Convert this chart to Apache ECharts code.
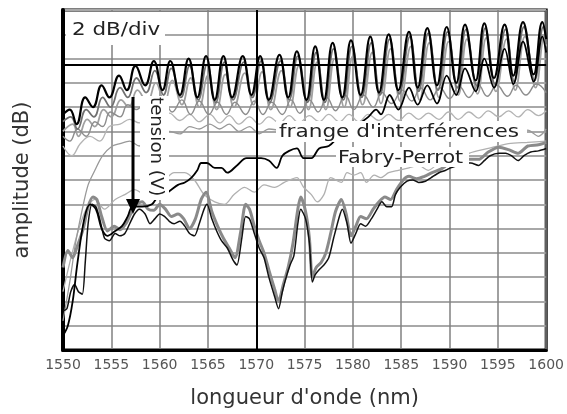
<!DOCTYPE html>
<html>
<head>
<meta charset="utf-8">
<title>amplitude / longueur d'onde</title>
<script src="https://cdn.jsdelivr.net/npm/echarts@6/dist/echarts.min.js"></script>
<style>
  html, body { margin: 0; padding: 0; background: #fff; }
  #main { width: 567px; height: 414px; }
</style>
</head>
<body>
<div id="main"></div>
<script>
// courbes : [longueur d'onde (nm), amplitude (dB)]
// tension la plus faible (courbe noire du haut, franges Fabry-Perot)
const k1 = [[1550.0,19.4],[1550.7,19.8],[1551.4,18.6],[1552.3,20.8],[1553.1,20.0],[1554.0,21.8],[1554.8,20.8],[1555.8,22.6],[1556.6,21.4],[1557.5,23.4],[1558.5,21.8],[1559.4,23.8],[1560.3,21.4],[1561.1,23.8],[1562.1,21.0],[1563.0,24.0],[1563.9,20.8],[1564.8,24.2],[1565.7,20.6],[1566.6,24.2],[1567.5,20.8],[1568.6,24.2],[1569.5,21.0],[1570.4,24.2],[1571.3,20.6],[1572.4,24.3],[1573.3,20.8],[1574.2,24.6],[1575.2,20.6],[1576.1,25.0],[1577.0,20.6],[1577.9,25.3],[1578.9,20.8],[1579.8,25.5],[1580.8,21.0],[1581.8,25.8],[1582.7,21.2],[1583.7,26.0],[1584.7,21.4],[1585.8,26.2],[1586.7,21.6],[1587.7,26.5],[1588.7,21.8],[1589.7,26.6],[1590.7,22.0],[1591.6,26.8],[1592.7,22.2],[1593.6,26.9],[1594.6,22.4],[1595.7,26.8],[1596.6,22.6],[1597.6,27.0],[1598.7,22.7],[1599.6,27.0],[1600.0,25.6]]
const t2 = [[1550.0,18.8],[1550.8,19.2],[1551.5,18.2],[1552.4,19.8],[1553.2,19.2],[1554.1,20.8],[1554.9,20.0],[1555.9,21.6],[1556.7,20.8],[1557.6,22.4],[1558.6,21.2],[1559.5,23.0],[1560.4,21.0],[1561.2,23.2],[1562.2,20.8],[1563.1,23.4],[1564.0,20.6],[1564.9,23.5],[1565.8,20.4],[1566.7,23.7],[1567.6,20.6],[1568.7,23.7],[1569.6,20.8],[1570.5,23.8],[1571.4,20.4],[1572.5,23.8],[1573.4,20.6],[1574.3,24.2],[1575.3,20.4],[1576.2,24.5],[1577.1,20.4],[1578.0,24.8],[1579.0,20.6],[1579.9,25.0],[1580.9,20.8],[1581.9,25.3],[1582.8,21.0],[1583.8,25.6],[1584.8,21.1],[1585.9,25.8],[1586.8,21.3],[1587.8,26.1],[1588.8,21.4],[1589.8,26.2],[1590.8,21.6],[1591.7,26.4],[1592.8,21.8],[1593.7,26.5],[1594.7,21.9],[1595.8,26.4],[1596.7,22.1],[1597.7,26.6],[1598.8,22.2],[1599.7,26.6],[1600.0,25.2]]
const t3 = [[1550.0,18.0],[1551.0,18.6],[1551.6,17.6],[1552.5,19.0],[1553.3,18.4],[1554.2,19.8],[1555.0,19.2],[1556.0,20.6],[1556.8,20.0],[1557.7,21.4],[1558.7,20.4],[1559.6,22.0],[1560.5,20.4],[1561.3,22.2],[1562.3,20.2],[1563.2,22.4],[1564.1,20.0],[1565.0,22.6],[1565.9,19.8],[1566.8,22.7],[1567.7,20.0],[1568.8,22.8],[1569.7,20.2],[1570.6,22.9],[1571.5,19.8],[1572.6,23.0],[1573.5,20.0],[1574.4,23.4],[1575.4,19.8],[1576.3,23.7],[1577.2,19.8],[1578.1,24.0],[1579.1,20.0],[1580.0,24.2],[1581.0,20.2],[1582.0,24.5],[1582.9,20.3],[1583.9,24.8],[1584.9,20.5],[1586.0,25.0],[1586.9,20.6],[1587.9,25.3],[1588.9,20.8],[1589.9,25.4],[1590.9,21.0],[1591.8,25.6],[1592.9,21.1],[1593.8,25.7],[1594.8,21.3],[1595.9,25.6],[1596.8,21.4],[1597.8,25.8],[1598.9,21.6],[1599.8,25.8],[1600.0,25.0]]
const l1 = [[1550.0,17.6],[1550.7,17.2],[1551.5,18.2],[1552.4,17.6],[1553.3,18.8],[1554.1,18.4],[1554.9,19.6],[1555.9,19.2],[1556.7,20.2],[1557.6,19.8],[1558.6,20.5],[1559.5,19.8],[1560.4,20.6],[1561.3,19.6],[1562.3,20.6],[1563.2,19.4],[1564.1,20.5],[1565.1,19.4],[1566.0,20.4],[1566.9,19.4],[1567.8,20.4],[1568.9,19.4],[1569.8,20.5],[1570.7,19.4],[1571.6,20.4],[1572.7,19.4],[1573.6,20.6],[1574.5,19.5],[1575.5,20.6],[1576.4,19.6],[1577.3,20.8],[1578.2,19.7],[1579.2,21.0],[1580.1,19.8],[1581.1,21.0],[1582.1,20.0],[1583.0,21.2],[1584.0,20.3],[1585.1,21.4],[1586.1,20.5],[1587.0,21.6],[1588.0,20.6],[1589.0,21.6],[1590.0,20.7],[1591.0,21.7],[1592.0,20.8],[1593.0,21.8],[1593.9,20.9],[1594.9,21.8],[1596.0,20.9],[1596.9,21.8],[1597.9,21.0],[1599.0,21.9],[1600.0,21.2]]
const l2 = [[1550.0,16.8],[1550.9,16.0],[1551.8,17.0],[1552.8,17.6],[1553.8,17.2],[1554.8,18.4],[1555.9,18.6],[1556.9,19.0],[1557.9,18.7],[1559.0,19.4],[1560.0,18.8],[1561.0,19.5],[1562.1,18.9],[1563.1,19.4],[1564.1,18.8],[1565.2,19.4],[1566.2,18.7],[1567.2,19.3],[1568.2,18.6],[1569.3,19.2],[1570.3,18.6],[1571.3,19.2],[1572.4,18.7],[1573.4,19.3],[1574.4,18.7],[1575.5,19.3],[1576.5,18.8],[1577.5,19.4],[1578.6,18.8],[1579.6,19.4],[1580.6,18.8],[1581.6,19.4],[1582.7,18.9],[1583.7,19.4],[1584.7,18.9],[1585.8,19.5],[1586.8,19.0],[1587.8,19.5],[1588.9,19.0],[1589.9,19.6],[1590.9,19.0],[1592.0,19.6],[1593.0,19.1],[1594.0,19.7],[1595.1,19.2],[1596.1,19.7],[1597.1,19.2],[1598.1,19.8],[1599.2,19.3],[1600.0,19.7]]
const l3 = [[1550.0,2.4],[1550.7,5.6],[1551.3,8.8],[1552.0,11.6],[1552.6,13.6],[1553.3,14.8],[1554.1,16.0],[1555.1,16.8],[1555.9,17.0],[1556.9,17.2],[1557.9,16.8],[1559.0,17.6],[1560.0,17.2],[1561.0,18.0],[1562.1,17.8],[1563.1,18.4],[1564.1,18.2],[1565.2,18.6],[1566.2,18.2],[1567.2,18.6],[1568.2,18.0],[1569.3,18.4],[1570.3,17.8],[1571.3,18.2],[1574.4,17.8],[1578.6,17.6],[1582.7,17.4],[1586.8,17.4],[1590.9,17.2],[1592.0,17.6],[1593.0,17.2],[1594.0,17.8],[1595.1,17.4],[1596.1,17.9],[1597.1,17.5],[1598.1,18.1],[1599.2,17.6],[1600.0,18.2]]
const m3 = [[1550.0,4.8],[1550.7,7.2],[1551.5,9.6],[1552.4,11.6],[1553.3,12.4],[1554.3,11.6],[1555.4,12.4],[1556.4,12.8],[1557.4,13.2],[1558.5,12.8],[1559.5,13.6],[1560.5,14.0],[1561.5,14.6],[1562.6,14.6],[1563.6,14.0],[1564.6,12.8],[1565.7,12.2],[1566.7,12.0],[1567.7,12.8],[1568.8,13.4],[1569.8,13.0],[1570.8,13.6],[1571.9,13.4],[1572.9,13.8],[1574.2,14.2],[1574.9,13.4],[1575.7,12.8],[1576.3,12.2],[1577.0,12.8],[1577.7,14.2],[1578.8,13.8],[1579.4,14.6],[1580.1,14.4],[1580.8,14.6],[1581.4,13.8],[1582.2,14.4],[1582.9,14.2],[1583.7,14.6],[1584.7,14.8],[1585.8,15.0],[1586.8,15.2],[1587.8,14.8],[1588.9,15.4],[1589.9,15.6],[1590.9,15.8],[1592.0,16.2],[1594.0,16.6],[1596.1,17.0],[1598.1,17.1],[1600.0,17.2]]
// courbe noire intermédiaire
const k2 = [[1550.0,1.2],[1550.5,2.0],[1551.0,4.0],[1551.5,7.2],[1552.2,10.8],[1552.8,12.0],[1553.4,11.6],[1554.0,10.0],[1554.6,9.4],[1555.4,9.8],[1556.1,10.2],[1556.7,11.0],[1557.2,11.8],[1558.2,11.8],[1559.2,12.0],[1559.8,12.6],[1560.5,12.8],[1561.2,13.2],[1561.9,13.6],[1562.6,13.8],[1563.3,14.2],[1563.9,14.8],[1564.3,15.4],[1564.9,15.4],[1565.7,15.0],[1566.4,15.0],[1567.0,14.6],[1568.0,15.2],[1569.0,15.8],[1570.5,15.8],[1571.3,15.6],[1572.1,15.0],[1572.7,16.0],[1573.4,16.4],[1574.2,16.6],[1574.9,15.8],[1575.7,15.8],[1576.5,16.6],[1577.5,16.8],[1578.6,17.6],[1579.6,18.0],[1580.6,18.6],[1581.6,19.2],[1582.4,19.8],[1582.9,19.4],[1583.8,21.0],[1584.7,19.8],[1585.8,21.6],[1586.7,20.2],[1587.7,21.8],[1588.7,20.3],[1589.7,22.6],[1590.7,21.0],[1591.6,23.2],[1592.7,21.3],[1593.6,24.0],[1594.6,21.6],[1595.7,24.8],[1596.6,21.9],[1597.6,25.4],[1598.7,22.1],[1599.6,25.8],[1600.0,24.5]]
// faisceau du bas (tensions les plus fortes)
const b1 = [[1550.0,6.8],[1550.5,8.2],[1551.0,7.6],[1551.5,8.6],[1552.1,10.0],[1552.6,11.8],[1553.1,12.6],[1553.5,12.4],[1554.0,11.0],[1554.6,9.8],[1555.3,10.2],[1555.9,9.9],[1556.5,10.4],[1557.0,11.2],[1557.6,12.0],[1558.2,12.2],[1558.8,11.6],[1559.4,11.5],[1560.0,12.0],[1560.6,11.6],[1561.2,11.0],[1561.9,11.2],[1562.5,10.8],[1563.1,10.0],[1563.7,10.8],[1564.3,12.4],[1564.8,13.0],[1565.4,11.4],[1566.0,10.2],[1566.6,9.2],[1567.2,8.4],[1567.8,7.6],[1568.4,9.8],[1568.9,12.0],[1569.3,11.6],[1569.8,10.2],[1570.3,9.0],[1570.8,8.0],[1571.3,6.6],[1571.9,5.0],[1572.3,4.0],[1572.8,5.4],[1573.3,6.8],[1573.8,8.8],[1574.3,11.6],[1574.6,12.6],[1575.1,11.4],[1575.5,9.2],[1575.8,6.0],[1576.2,6.8],[1576.7,7.2],[1577.2,8.0],[1577.7,9.6],[1578.2,11.4],[1578.8,12.4],[1579.3,11.2],[1579.8,9.4],[1580.3,10.2],[1580.8,11.0],[1581.4,10.8],[1582.1,11.6],[1582.7,12.2],[1583.3,12.6],[1583.9,12.4],[1584.5,13.2],[1585.2,14.0],[1585.8,14.3],[1586.6,14.1],[1587.4,14.3],[1588.2,14.6],[1589.1,14.9],[1589.9,15.3],[1590.9,15.5],[1592.0,15.7],[1593.0,15.7],[1594.0,16.3],[1595.1,16.7],[1596.1,16.5],[1597.1,16.2],[1598.1,16.8],[1599.2,16.9],[1600.0,17.1]]
const b2 = [[1550.0,3.2],[1550.4,3.4],[1550.8,4.8],[1551.2,5.4],[1551.6,4.8],[1552.0,4.6],[1552.3,7.2],[1552.6,10.4],[1553.0,12.0],[1553.4,11.8],[1553.8,10.8],[1554.3,9.2],[1554.8,9.0],[1555.4,9.6],[1555.9,9.4],[1556.4,9.6],[1556.9,10.4],[1557.4,11.2],[1557.9,11.6],[1558.5,11.2],[1559.0,10.4],[1559.5,10.8],[1560.0,11.2],[1560.5,11.0],[1561.0,10.6],[1561.5,10.4],[1562.1,10.6],[1562.6,10.2],[1563.1,9.6],[1563.6,9.4],[1564.1,10.4],[1564.6,11.6],[1564.9,12.0],[1565.4,10.8],[1565.9,9.8],[1566.4,9.0],[1567.0,8.4],[1567.6,7.4],[1568.0,7.0],[1568.5,9.2],[1568.9,11.0],[1569.3,10.8],[1569.8,9.6],[1570.3,8.4],[1570.8,7.6],[1571.3,6.0],[1571.9,4.4],[1572.3,3.4],[1572.7,4.8],[1573.1,6.0],[1573.5,7.0],[1573.9,7.8],[1574.3,10.4],[1574.6,11.6],[1575.1,10.8],[1575.5,8.8],[1575.8,5.6],[1576.1,6.2],[1576.5,6.6],[1577.0,7.0],[1577.5,7.6],[1578.0,9.2],[1578.6,11.0],[1578.9,11.6],[1579.4,10.4],[1579.8,8.8],[1580.3,9.6],[1580.8,10.4],[1581.3,10.2],[1581.9,10.8],[1582.5,11.6],[1583.0,12.2],[1583.5,11.8],[1584.0,11.8],[1584.4,12.8],[1584.9,13.4],[1585.6,13.9],[1586.2,14.0],[1586.8,13.8],[1587.5,13.9],[1588.1,14.2],[1588.9,14.6],[1589.6,14.8],[1590.1,15.0],[1590.9,15.2],[1591.6,15.4],[1592.2,15.4],[1593.0,15.2],[1593.6,15.6],[1594.2,16.0],[1595.1,16.2],[1595.8,16.2],[1596.4,16.0],[1597.1,15.6],[1597.7,16.0],[1598.4,16.3],[1599.2,16.4],[1600.0,16.6]]

let myChart = echarts.init(document.getElementById('main'))

const police = '"DejaVu Sans", sans-serif'

function courbe(data, color, width, smooth) {
    return {
        type: 'line',
        data: data,
        showSymbol: false,
        smooth: smooth,
        lineStyle: { color: color, width: width },
        silent: true
    }
}

const options = {
    animation: false,
    backgroundColor: '#fff',
    grid: {
        left: 63,
        right: 19,
        top: 10,
        bottom: 54,
        show: true,
        borderColor: '#000',
        borderWidth: 3
    },
    xAxis: {
        type: 'value',
        min: 1550,
        max: 1600,
        interval: 5,
        name: "longueur d'onde (nm)",
        nameLocation: 'middle',
        nameGap: 38,
        nameTextStyle: { fontFamily: police, fontSize: 21, color: '#333' },
        axisLine: { show: true, lineStyle: { color: '#000', width: 3 } },
        axisTick: { show: false },
        axisLabel: { fontFamily: police, fontSize: 14, color: '#555', margin: 8, formatter: v => String(v) },
        splitLine: { show: true, lineStyle: { color: '#808080', width: 1.5 } }
    },
    yAxis: {
        type: 'value',
        min: 0,
        max: 28,
        interval: 2,
        name: 'amplitude (dB)',
        nameLocation: 'middle',
        nameGap: 30,
        nameTextStyle: { fontFamily: police, fontSize: 21, color: '#333' },
        axisLine: { show: true, lineStyle: { color: '#000', width: 4 } },
        axisTick: { show: false },
        axisLabel: { show: false },
        splitLine: { show: true, lineStyle: { color: '#a8a8a8', width: 2 } }
    },
    series: [
        courbe(l2, '#b4b4b4', 1.3, 0.4),
        courbe(m3, '#b0b0b0', 1.3, 0.3),
        courbe(l3, '#999', 1.3, 0.3),
        courbe(t3, '#a0a0a0', 1.8, 0.45),
        courbe(l1, '#8c8c8c', 1.4, 0.45),
        courbe(b1, '#8a8a8a', 3, 0.25),
        courbe(t2, '#707070', 1.8, 0.45),
        courbe(b2, '#111', 1.5, 0.25),
        courbe(k2, '#000', 1.8, 0.35),
        Object.assign(courbe(k1, '#000', 2.2, 0.45), {
            // repères plus foncés de la grille
            markLine: {
                silent: true,
                symbol: 'none',
                label: { show: false },
                lineStyle: { color: '#000', width: 2, type: 'solid' },
                data: [{ xAxis: 1570 }, { yAxis: 23.5 }]
            }
        })
    ],
    graphic: [
        // 2 dB/div
        { type: 'rect', z: 100, shape: { x: 66, y: 12, width: 99, height: 33 }, style: { fill: '#fff' } },
        { type: 'text', z: 101, x: 72, y: 30, scaleX: 1.19,
          style: { text: '2 dB/div', font: '18px ' + police, fill: '#222', verticalAlign: 'middle', textVerticalAlign: 'middle' } },
        // tension (V) + flèche
        { type: 'rect', z: 100, shape: { x: 140, y: 96, width: 29, height: 104 }, style: { fill: '#fff' } },
        { type: 'text', z: 101, x: 155, y: 97, rotation: -Math.PI / 2, scaleX: 1.07,
          style: { text: 'tension (V)', font: '17px ' + police, fill: '#222', verticalAlign: 'middle', textVerticalAlign: 'middle' } },
        { type: 'line', z: 101, shape: { x1: 133, y1: 97, x2: 133, y2: 203 }, style: { stroke: '#000', lineWidth: 3 } },
        { type: 'polygon', z: 101, shape: { points: [[126, 199], [140, 199], [133, 214]] }, style: { fill: '#000' } },
        // légendes
        { type: 'rect', z: 100, shape: { x: 276, y: 121, width: 251, height: 21 }, style: { fill: '#fff' } },
        { type: 'text', z: 101, x: 279, y: 132, scaleX: 1.2,
          style: { text: "frange d'interférences", font: '18px ' + police, fill: '#222', verticalAlign: 'middle', textVerticalAlign: 'middle' } },
        { type: 'rect', z: 100, shape: { x: 336, y: 147, width: 133, height: 20 }, style: { fill: '#fff' } },
        { type: 'text', z: 101, x: 338, y: 158, scaleX: 1.15,
          style: { text: 'Fabry-Perrot', font: '18px ' + police, fill: '#222', verticalAlign: 'middle', textVerticalAlign: 'middle' } }
    ]
}
myChart.setOption(options)
</script>
</body>
</html>
